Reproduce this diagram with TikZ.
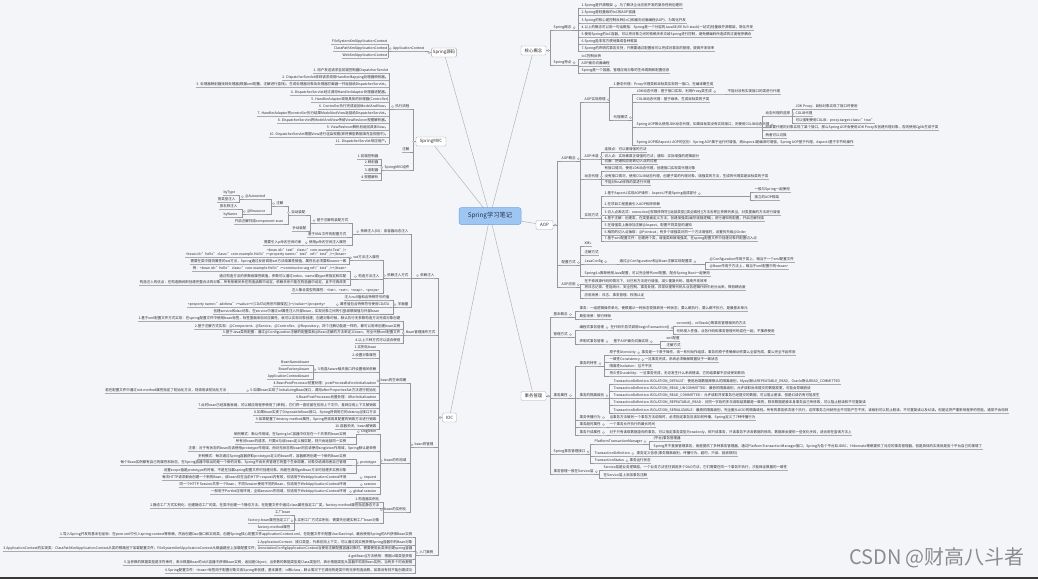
\documentclass[tikz,border=0pt]{standalone}
\usepackage{fontspec}
\setmainfont{Noto Sans CJK SC}
\definecolor{bgc}{RGB}{244,245,249}
\definecolor{txt}{RGB}{45,45,50}
\definecolor{ulc}{RGB}{170,170,176}
\definecolor{cnc}{RGB}{150,150,156}
\definecolor{brc}{RGB}{175,175,180}
\definecolor{boxd}{RGB}{165,165,170}
\definecolor{rootf}{RGB}{158,198,242}
\definecolor{rootd}{RGB}{118,163,222}
\definecolor{roott}{RGB}{40,50,75}
\definecolor{wmc}{RGB}{140,140,140}
\definecolor{barc}{RGB}{55,55,58}
\pgfdeclarelayer{bgl}\pgfdeclarelayer{fgl}\pgfsetlayers{bgl,main,fgl}
\newcommand\lfs{\fontsize{3.5pt}{4.2pt}\selectfont}
\tikzset{
  leafnu/.style={font=\lfs,text=txt,inner xsep=0.5pt,inner ysep=0.45pt,text height=2.75pt,text depth=0.75pt},
  leaf/.style={leafnu,append after command={(\tikzlastnode.south west) edge[uline] (\tikzlastnode.south east)}},
  uline/.style={draw=ulc,line width=0.45pt},
  conn/.style={draw=cnc,line width=0.4pt},
  knob/.style={draw=cnc,fill=bgc,line width=0.3pt},
  box/.style={draw=boxd,fill=white,rounded corners=1.2pt,font=\fontsize{4.4pt}{5pt}\selectfont,text=txt,inner xsep=1.5pt,inner ysep=0pt,minimum height=9pt,line width=0.4pt},
  root/.style={draw=rootd,fill=rootf,rounded corners=2.5pt,minimum width=62pt,minimum height=17pt,font=\fontsize{6.3pt}{7pt}\selectfont,text=roott,line width=0.5pt},
  branch/.style={draw=brc,line width=0.45pt},
  wm/.style={font=\fontsize{20pt}{22pt}\selectfont,text=wmc}
}
\newcommand\LN[4]{\node[leaf,anchor=south east] (#1) at (#2,#3) {#4};}
\newcommand\RN[4]{\node[leaf,anchor=south west] (#1) at (#2,#3) {#4};}
\newcommand\LC[3]{\coordinate (spt) at (#2,0);\foreach \nn in {#3}{\draw[conn] (#1) -- (#1 -| spt) |- (\nn.south east);}\begin{pgfonlayer}{fgl}\draw[knob] (#1) ++(-2.1,-2.3) circle[radius=1.05pt];\end{pgfonlayer}}
\newcommand\LCB[3]{\coordinate (spt) at (#2,0);\foreach \nn in {#3}{\draw[conn] (#1) -- (#1 -| spt) |- (\nn.south east);}\begin{pgfonlayer}{fgl}\draw[knob] (#1) ++(-2.2,0) circle[radius=1.05pt];\end{pgfonlayer}}
\newcommand\RC[3]{\coordinate (spt) at (#2,0);\foreach \nn in {#3}{\draw[conn] (#1) -- (#1 -| spt) |- (\nn.south west);}\begin{pgfonlayer}{fgl}\draw[knob] (#1) ++(2.1,-2.3) circle[radius=1.05pt];\end{pgfonlayer}}
\newcommand\RCB[3]{\coordinate (spt) at (#2,0);\foreach \nn in {#3}{\draw[conn] (#1) -- (#1 -| spt) |- (\nn.south west);}\begin{pgfonlayer}{fgl}\draw[knob] (#1) ++(2.2,0) circle[radius=1.05pt];\end{pgfonlayer}}
\begin{document}
\begin{tikzpicture}[x=1pt,y=-1pt]
\begin{pgfonlayer}{bgl}
\fill[bgc] (0,0) rectangle (1038,579);
\end{pgfonlayer}
\useasboundingbox (0,0) rectangle (1038,579);
\fill[barc] (0,577) rectangle (1038,579);

% ---------- root and main branches
\node[root] (root) at (490,216) {Spring学习笔记};
\node[box,minimum width=24pt] (src) at (444,52.5) {Spring源码};
\node[box,minimum width=30pt] (mvc) at (431,141.5) {SpringMVC};
\node[box,minimum width=14pt] (ioc) at (449.5,417.5) {IOC};
\node[box,minimum width=25pt] (core) at (533.5,50.5) {核心概念};
\node[box,minimum width=17pt] (aop) at (544.5,225) {AOP};
\node[box,minimum width=25pt] (tx) at (533.5,396) {事务管理};
\begin{pgfonlayer}{bgl}
\foreach \b in {src,mvc,ioc,core,aop,tx} \draw[branch] (root.center) -- (\b);
\end{pgfonlayer}

% ---------- Spring源码
\LN{s1}{425}{51}{ApplicationContext}
\LCB{src.west}{428.5}{s1}
\LN{s11}{388}{44}{FileSystemXmlApplicationContext}
\LN{s12}{388}{51}{ClassPathXmlApplicationContext}
\LN{s13}{388}{58}{WebXmlApplicationContext}
\LC{s1.south west}{388}{s11,s12,s13}

% ---------- SpringMVC
\LN{m1}{410}{109}{执行流程}
\LN{m2}{410}{152}{注解}
\LN{m3}{410}{170}{SpringMVC组件}
\LCB{mvc.west}{413}{m1,m2,m3}
\LN{m11}{389}{73}{1. 用户发送请求至前端控制器DispatcherServlet}
\LN{m12}{389}{80}{2. DispatcherServlet收到请求调用HandlerMapping处理器映射器。}
\LN{m13}{389}{87}{3. 处理器映射器找到处理器(根据xml配置、注解进行查找)，生成处理器对象及处理器拦截器一并返回给DispatcherServlet。}
\LN{m14}{389}{95}{4. DispatcherServlet经过调用HandlerAdapter处理器适配器。}
\LN{m15}{389}{102}{5. HandlerAdapter调用具体的处理器(Controller)}
\LN{m16}{389}{109}{6. Controller执行完成返回ModelAndView。}
\LN{m17}{389}{116}{7. HandlerAdapter将controller执行结果ModelAndView返回给DispatcherServlet。}
\LN{m18}{389}{123}{8. DispatcherServlet将ModelAndView传给ViewReslover视图解析器。}
\LN{m19}{389}{130}{9. ViewReslover解析后返回具体View。}
\LN{m110}{389}{137}{10. DispatcherServlet根据View进行渲染视图(即将模型数据填充至视图中)。}
\LN{m111}{389}{144}{11. DispatcherServlet响应用户。}
\LC{m1.south west}{389}{m11,m12,m13,m14,m15,m16,m17,m18,m19,m110,m111}
\LN{m31}{379}{159}{1.前端控制器}
\LN{m32}{379}{165}{2.映射器}
\LN{m33}{379}{173}{3.适配器}
\LN{m34}{379}{180}{4.视图解析}
\LC{m3.south west}{381.5}{m31,m32,m33,m34}

% ---------- IOC
\LN{i1}{435}{278}{依赖注入}
\LN{i2}{436}{335}{Bean管理操作方式}
\LN{i3}{434}{447}{bean的管理}
\LN{i4}{434}{555}{入门案例}
\LCB{ioc.west}{438.5}{i1,i2,i3,i4}

% 依赖注入
\LN{c15}{409}{234}{依赖注入(DI)：由容器动态注入}
\LN{dfs}{409}{278}{依赖注入方式}
\LN{d5}{409}{307}{字面量}
\LC{i1.south west}{411}{c15,dfs,d5}
\LN{c11}{349}{223}{基于注解的装配方式}
\LN{c12}{347}{237}{基于XML文件的配置方式}
\LN{c13}{347}{245}{使用p命名空间注入属性}
\LC{c15.south west}{352}{c11,c12,c13}
\LN{c9}{306}{215}{自动装配}
\LN{c10}{307}{231}{手动装配}
\LC{c11.south west}{310}{c9,c10}
\LN{c7}{284}{206}{注解}
\LN{c8}{284}{224}{开启注解扫描component-scan}
\LC{c9.south west}{288}{c7,c8}
\LN{c5}{266}{199}{@Autowired}
\LN{c6}{266}{214}{@Resource}
\LC{c7.south west}{271}{c5,c6}
\LN{c1}{236}{195}{byType}
\LN{c2}{236}{202}{按类型注入}
\LC{c5.south west}{239}{c1,c2}
\LN{c3}{238}{209}{按名称注入}
\LN{c4}{238}{217}{byName}
\LC{c6.south west}{242}{c3,c4}
\LN{c14}{302}{245}{需要引入p命名空间约束}
\LC{c13.south west}{305}{c14}
\LN{setinj}{380}{260}{set方法注入属性}
\LN{consinj}{380}{279}{构造方法注入}
\LN{d1}{380}{293}{注入集合类型的属性：<list>、<set>、<map>、<props>}
\LC{dfs.south west}{383}{setinj,consinj,d1}
\node[leafnu,anchor=south east] (c16a) at (347,252.4) {<bean id="test" class="com.example.Test"/>};
\LN{c16}{347}{257}{<bean id="hello" class="com.example.Hello"><property name="test" ref="test"/></bean>}
\LN{c18}{347}{264}{需要在类中提供属性的set方法，Spring通过反射调用set方法给属性赋值，属性名必须要和name一致}
\LC{setinj.south west}{349.5}{c16,c18}
\LN{c19}{347}{271}{例：<bean id="hello" class="com.example.Hello"><constructor-arg ref="test"/></bean>}
\LN{c20}{347}{279}{通过构造方法的参数给属性赋值，参数可以通过index、name或type来指定和匹配}
\LN{c21}{347}{285}{构造注入的优点：在构造期间即创建完整合法的对象，所有依赖关系在构造函数中设定，依赖关系只能在构造器中设定，且不可再改变}
\LC{consinj.south west}{350}{c19,c20,c21}
\LN{d2}{390}{300}{注入null值和含特殊符号的值}
\LN{d4}{390}{307}{属性值包含特殊符号使用CDATA}
\LN{d7}{380}{314}{级联赋值与外部bean}
\LC{d5.south west}{393}{d2,d4,d7}
\LN{d3}{326}{307}{<property name="address"><value><![CDATA[南京市鼓楼区]]></value></property>}
\LC{d4.south west}{329}{d3}
\LN{d6}{347}{314}{创建service和dao对象，在service中通过ref属性注入外部bean，实现对象之间的引用}
\LC{d7.south west}{350}{d6}
\LN{d8}{401}{321}{1.基于xml配置文件方式实现：在spring配置文件中使用bean标签，标签里面添加对应属性，就可以实现对象创建；创建对象时候，默认执行无参数构造方法完成对象创建}
\LN{d9}{401}{329}{2.基于注解方式实现：@Component、@Service、@Controller、@Repository，四个注解功能是一样的，都可以用来创建bean实例}
\LN{d10}{401}{335}{3.基于Java类的配置：通过@Configuration注解的配置类和@Bean注解的方法来定义bean，完全代替xml配置文件}
\LN{d11}{401}{343}{4.以上三种方式可以混合使用}
\LC{i2.south west}{403.5}{d8,d9,d10,d11}

% bean的管理
\LN{e0}{407}{383}{bean的生命周期}
\LN{f0}{407}{463}{bean的作用域}
\LN{g0}{407}{512}{bean的实例化}
\LC{i3.south west}{410}{e0,f0,g0}
\LN{e1}{377}{350}{1.实例化bean}
\LN{e2}{377}{358}{2.设置对象属性}
\LN{e3}{377}{372}{3.检查Aware相关接口并设置相关依赖}
\LN{e4}{377}{386}{4.BeanPostProcessor前置处理：postProcessBeforeInitialization}
\LN{e5}{377}{393}{5.如果bean实现了InitializingBean接口，调用afterPropertiesSet方法进行初始化}
\LN{e6}{377}{400}{6.BeanPostProcessor后置处理：AfterInitialization}
\LN{e7}{377}{408}{7.此时bean已经准备就绪，可以被应用程序使用了(单例)，它们将一直驻留在应用上下文中，直到应用上下文被销毁}
\LN{e8}{377}{415}{8.如果bean实现了DisposableBean接口，Spring将调用它的destroy()接口方法}
\LN{e9}{377}{422}{9.如果配置了destroy-method属性，Spring将调用其配置的销毁方法进行销毁}
\LN{e10}{377}{429}{10.容器关闭，bean被销毁}
\LC{e0.south west}{379.5}{e1,e2,e3,e4,e5,e6,e7,e8,e9,e10}
\LN{aw1}{310}{365}{BeanNameAware}
\LN{aw2}{310}{372}{BeanFactoryAware}
\LN{aw3}{310}{379}{ApplicationContextAware}
\LC{e3.south west}{313}{aw1,aw2,aw3}
\LN{e51}{227}{393}{若在配置文件中通过init-method属性指定了初始化方法，则调用该初始化方法}
\LC{e5.south west}{230}{e51}
\LN{fs}{377}{434}{singleton}
\LN{f4}{377}{451}{注意：对于有状态的bean应该使用prototype作用域，而对无状态的bean则应该使用singleton作用域，Spring默认是单例}
\LN{fp}{377}{465}{prototype}
\LN{fr}{377}{480}{request}
\LN{fse}{377}{487}{session}
\LN{fg}{377}{494}{global session}
\LC{f0.south west}{380.5}{fs,f4,fp,fr,fse,fg}
\LN{fs1}{347}{437}{单例模式：默认作用域，在Spring IoC容器中仅存在一个共享的bean实例}
\LN{fs2}{347}{444}{所有对bean的请求，只要id与该bean定义相匹配，则只会返回同一实例}
\LC{fs.south west}{356}{fs1,fs2}
\LN{fp1}{347}{459}{多例模式：每次通过Spring容器获取prototype定义的bean时，容器都将创建一个新的Bean实例}
\LN{fp2}{347}{465}{每个Bean实例都有自己的属性和状态，在Spring容器中取出的是一个新的对象，Spring不会负责管理它的整个生命周期，对象交给调用者自己管理}
\LN{fp3}{347}{473}{设置scope值是prototype的时候，不是在加载spring配置文件时创建对象，而是在调用getBean方法时创建多实例对象}
\LC{fp.south west}{356}{fp1,fp2,fp3}
\LN{fr1}{347}{480}{每次HTTP请求都会创建一个新的Bean，该bean仅在当前HTTP request内有效，仅适用于WebApplicationContext环境}
\LC{fr.south west}{356}{fr1}
\LN{fse1}{347}{487}{同一个HTTP Session共享一个Bean，不同Session使用不同的Bean，仅适用于WebApplicationContext环境}
\LC{fse.south west}{356}{fse1}
\LN{fg1}{347}{494}{一般用于Portlet应用环境，全局session作用域，仅适用于WebApplicationContext环境}
\LC{fg.south west}{351}{fg1}
\LN{g1}{380}{502}{1.构造器实例化}
\LN{g2}{380}{508}{2.静态工厂方式实例化：创建静态工厂的类，在类中创建一个静态方法，在配置文件中通过class属性指定工厂类，factory-method属性指定静态方法}
\LN{g3}{380}{523}{3.实例工厂方式实例化：需要先创建实例工厂bean对象}
\LC{g0.south west}{383}{g1,g2,g3}
\LN{g31}{291}{515}{工厂bean}
\LN{g32}{291}{523}{factory-bean属性指定工厂}
\LN{g33}{291}{530}{factory-method属性}
\LC{g3.south west}{294}{g31,g32,g33}

% 入门案例
\LN{h1}{413}{537}{1.导入Spring开发的基本包坐标：在pom.xml中引入spring-context等依赖，然后创建Dao接口和实现类，创建Spring核心配置文件applicationContext.xml，在配置文件中配置UserDaoImpl，最后使用Spring的API获得Bean实例}
\LN{h2}{413}{545}{2.ApplicationContext：接口类型，代表应用上下文，可以通过其实例获得Spring容器中的Bean对象}
\LN{h3}{413}{551}{3.ApplicationContext的实现类：ClassPathXmlApplicationContext从类的根路径下加载配置文件；FileSystemXmlApplicationContext从磁盘路径上加载配置文件；AnnotationConfigApplicationContext当使用注解配置容器对象时，需要使用此类来创建spring容器}
\LN{h4}{413}{559}{4.getBean()方法使用：根据id或类型获取}
\LN{h5}{413}{565}{5.当参数的数据类型是字符串时，表示根据Bean的id从容器中获得Bean实例，返回是Object；当参数的数据类型是Class类型时，表示根据类型从容器中匹配Bean实例，当有多个时会报错}
\LN{h6}{413}{573}{6.Spring配置文件：<bean>标签用于配置对象交由Spring来创建，基本属性：id和class，默认情况下它调用的是类中的无参构造函数，如果没有则不能创建成功}
\LC{i4.south west}{415.5}{h1,h2,h3,h4,h5,h6}

% ---------- 核心概念
\RN{k1}{553}{30}{Spring概念}
\RN{k2}{553}{65}{Spring特点}
\RCB{core.east}{550}{k1,k2}
\RN{k11}{581}{8}{1.Spring是开源框架}
\RN{k12}{581}{15}{2.Spring是轻量级的IoC和AOP容器}
\RN{k13}{581}{23}{3.Spring的核心是控制反转(IoC)和面向切面编程(AOP)，为简化开发}
\RN{k14}{581}{30}{4.以上的概念可以用一句话概括：Spring是一个分层的JavaSE/EE full-stack(一站式)轻量级开源框架，简化开发}
\RN{k15}{581}{37}{5.使用Spring的IoC容器，可以将对象之间的依赖关系交给Spring进行控制，避免硬编码所造成的过度程序耦合}
\RN{k16}{581}{44}{6.Spring能非常方便地集成各种框架}
\RN{k17}{581}{51}{7.Spring的声明式事务支持，只需要通过配置就可以完成对事务的管理，提高开发效率}
\RC{k1.south east}{578}{k11,k12,k13,k14,k15,k16,k17}
\RN{k111}{619}{8}{为了解决企业应用开发的复杂性而创建的}
\RC{k11.south east}{616}{k111}
\RN{k21}{581}{59}{IoC控制反转}
\RN{k22}{581}{66}{AOP面向切面编程}
\RN{k23}{581}{73}{Spring是一个容器，管理应用对象的生命周期和配置信息}
\RC{k2.south east}{578}{k21,k22,k23}

% ---------- AOP
\RN{a1}{561}{161}{AOP概念}
\RN{a2}{561}{265}{配置方式}
\RN{a3}{561}{287}{AOP应用}
\RCB{aop.east}{557}{a1,a2,a3}
\RN{a11}{584}{102}{AOP实现原理}
\RN{a12}{584}{159}{AOP术语}
\RN{a13}{584}{179}{动态代理}
\RN{a14}{584}{218}{实现方式}
\RC{a1.south east}{580}{a11,a12,a13,a14}
\RN{a111}{613}{87}{1.静态代理：Proxy代理类和目标类实现同一接口，在编译期生成}
\RN{a112}{613}{120}{代理模式}
\RC{a11.south east}{609}{a111,a112}
\RN{a1121}{636}{94}{JDK动态代理：基于接口实现，利用Proxy类生成}
\RN{a1122}{636}{102}{CGLIB动态代理：基于继承，生成目标类的子类}
\RN{a1123}{636}{127}{Spring AOP默认使用JDK动态代理，如果目标类没有实现接口，则使用CGLIB动态代理}
\RN{a1124}{636}{145}{Spring AOP和AspectJ AOP的区别：Spring AOP属于运行时增强，而AspectJ是编译时增强，Spring AOP基于代理，AspectJ基于字节码操作}
\RC{a112.south east}{632}{a1121,a1122,a1123,a1124}
\RN{a11211}{727}{94}{不能对没有实现接口的类进行代理}
\RC{a1121.south east}{724}{a11211}
\RN{p1}{765}{116}{动态代理的选择}
\RN{p2}{765}{130}{如果要代理的对象实现了某个接口，那么Spring AOP会使用JDK Proxy去创建代理对象，否则使用Cglib生成子类}
\RN{p3}{765}{138}{两者可以切换}
\RC{a1123.south east}{762}{p1,p2,p3}
\RN{p11}{795}{109}{JDK Proxy：目标对象实现了接口时使用}
\RN{p12}{795}{116}{CGLIB代理}
\RN{p13}{795}{123}{可以强制使用CGLIB：proxy-target-class="true"}
\RC{p1.south east}{792}{p11,p12,p13}
\RN{a121}{604}{152}{连接点：可以被增强的方法}
\RN{a122}{604}{159}{切入点：实际被真正增强的方法；通知：实际增强的逻辑部分}
\RN{a123}{604}{164}{切面：把通知应用到切入点的过程}
\RC{a12.south east}{601}{a121,a122,a123}
\RN{a131}{604}{171}{有接口情况，使用JDK动态代理，创建接口实现类代理对象}
\RN{a132}{604}{179}{没有接口情况，使用CGLIB动态代理，创建子类的代理对象，增强类的方法，生成的代理类是目标类的子类}
\RN{a133}{604}{185}{不能对final修饰的类进行代理}
\RC{a13.south east}{601.5}{a131,a132,a133}
\RN{q1}{604}{196}{1.基于AspectJ实现AOP操作：AspectJ不是Spring组成部分}
\RN{q2}{604}{207}{2.在项目工程里面引入AOP相关依赖}
\RN{q3}{604}{215}{3.切入点表达式：execution([权限修饰符][返回类型][类全路径][方法名称]([参数列表]))，对类里面的方法进行增强}
\RN{q4}{604}{221}{4.基于注解：创建类，在类里面定义方法；创建增强类(编写增强逻辑)；进行通知的配置，开启注解扫描}
\RN{q5}{604}{228}{5.在增强类上面添加注解@Aspect，配置不同类型的通知}
\RN{q6}{604}{235}{6.相同的切入点抽取：@Pointcut；有多个增强类对同一个方法增强时，设置优先级@Order}
\RN{q7}{604}{241}{7.基于xml配置文件：创建两个类，增强类和被增强类，在spring配置文件中创建对象并配置切入点}
\RC{a14.south east}{601.5}{q1,q2,q3,q4,q5,q6,q7}
\RN{q11}{754}{192}{一般与Spring一起使用}
\RN{q12}{754}{200}{独立的AOP框架}
\RC{q1.south east}{750}{q11,q12}
\RN{b1}{584}{246}{XML}
\RN{b2}{584}{255}{注解方式}
\RN{b3}{584}{264}{JavaConfig}
\RN{b4}{584}{276}{Spring4.x推荐使用Java配置，可以完全替代xml配置，配合Spring Boot一起使用}
\RC{a2.south east}{580}{b1,b2,b3,b4}
\RN{b31}{619}{264}{通过@Configuration和@Bean注解实现配置类}
\RC{b3.south east}{615}{b31}
\RN{b311}{709}{262}{@Configuration作用于类上，相当于一个xml配置文件}
\RN{b312}{709}{269}{@Bean作用于方法上，相当于xml配置中的<bean>}
\RC{b31.south east}{705}{b311,b312}
\RN{r1}{584}{284}{在不修改源代码的情况下，对已有方法进行增强，减少重复代码，提高开发效率}
\RN{r2}{584}{290}{将日志记录、性能统计、安全控制、事务处理、异常处理等代码从业务逻辑代码中划分出来，降低耦合度}
\RN{r3}{584}{298}{应用场景：日志、事务管理、权限认证}
\RC{a3.south east}{580}{r1,r2,r3}

% ---------- 事务管理
\RN{t1}{553}{317}{基本概念}
\RN{t2}{553}{337}{管理方式}
\RN{t3}{553}{398}{事务属性}
\RN{t4}{553}{454}{Spring事务管理接口}
\RN{t5}{553}{474}{事务管理一般在Service层}
\RCB{tx.east}{550}{t1,t2,t3,t4,t5}
\RN{t11}{579}{311}{事务：一组逻辑操作单元，使数据从一种状态变换到另一种状态；要么都执行，要么都不执行，是最基本单元}
\RN{t12}{579}{319}{典型场景：银行转账}
\RC{t1.south east}{575.5}{t11,t12}
\RN{t21}{579}{330}{编程式事务管理}
\RN{t22}{579}{344}{声明式事务管理}
\RC{t2.south east}{575.5}{t21,t22}
\RN{t211}{610}{330}{在代码中显式调用beginTransaction()}
\RC{t21.south east}{607.5}{t211}
\RN{t2111}{676}{326}{commit()、rollback()等事务管理相关的方法}
\RN{t2112}{676}{334}{代码侵入性强，业务代码和事务管理代码混在一起，不推荐使用}
\RC{t211.south east}{673}{t2111,t2112}
\RN{t221}{613}{344}{基于AOP面向切面实现}
\RC{t22.south east}{608}{t221}
\RN{t2211}{666}{341}{xml配置}
\RN{t2212}{666}{348}{注解方式}
\RC{t221.south east}{660}{t2211,t2212}
\RN{t31}{579}{366}{事务的特性}
\RN{t32}{579}{398}{事务的隔离级别}
\RN{t33}{579}{420}{事务传播行为}
\RN{t34}{579}{427}{事务超时属性}
\RN{t35}{579}{435}{事务只读属性}
\RC{t3.south east}{575.5}{t31,t32,t33,t34,t35}
\RN{t311}{609}{355}{原子性Atomicity}
\RN{t312}{609}{362}{一致性Consistency}
\RN{t313}{609}{369}{隔离性Isolation：互不干扰}
\RN{t314}{609}{376}{持久性Durability：一旦事务完成，无论发生什么系统错误，它的结果都不应该受到影响}
\RC{t31.south east}{604}{t311,t312,t313,t314}
\RN{t3111}{641}{355}{事务是一个原子操作，由一系列动作组成，事务的原子性确保动作要么全部完成，要么完全不起作用}
\RC{t311.south east}{638}{t3111}
\RN{t3121}{644}{362}{一旦事务完成，系统必须确保数据处于一致状态}
\RC{t312.south east}{641.5}{t3121}
\RN{t321}{613}{384}{TransactionDefinition.ISOLATION\_DEFAULT：使用后端数据库默认的隔离级别，Mysql默认REPEATABLE\_READ，Oracle默认READ\_COMMITTED}
\RN{t322}{613}{391}{TransactionDefinition.ISOLATION\_READ\_UNCOMMITTED：最低的隔离级别，允许读取尚未提交的数据变更，可能会导致脏读}
\RN{t323}{613}{398}{TransactionDefinition.ISOLATION\_READ\_COMMITTED：允许读取并发事务已经提交的数据，可以阻止脏读，但是幻读仍有可能发生}
\RN{t324}{613}{405}{TransactionDefinition.ISOLATION\_REPEATABLE\_READ：对同一字段的多次读取结果都是一致的，除非数据是被本身事务自己所修改，可以阻止脏读和不可重复读}
\RN{t325}{613}{413}{TransactionDefinition.ISOLATION\_SERIALIZABLE：最高的隔离级别，完全服从ACID的隔离级别。所有的事务依次逐个执行，这样事务之间就完全不可能产生干扰，该级别可以防止脏读、不可重复读以及幻读。但是这将严重影响程序的性能，通常不会用到}
\RC{t32.south east}{609}{t321,t322,t323,t324,t325}
\RN{t331}{609}{420}{当事务方法被另一个事务方法调用时，必须指定事务应该如何传播，Spring定义了7种传播行为}
\RC{t33.south east}{605}{t331}
\RN{t341}{609}{427}{一个事务允许执行的最长时间}
\RC{t34.south east}{605}{t341}
\RN{t351}{609}{435}{对于只有读取数据查询的事务，可以指定事务类型为readonly，即只读事务，只读事务不涉及数据的修改，数据库会提供一些优化手段，适合用在查询方法上}
\RC{t35.south east}{605}{t351}
\RN{u1}{594}{444}{PlatformTransactionManager}
\RN{u2}{594}{456}{TransactionDefinition}
\RN{u3}{594}{463}{TransactionStatus}
\RC{t4.south east}{590}{u1,u2,u3}
\RN{u11}{653}{441}{(平台)事务管理器}
\RN{u12}{653}{449}{Spring并不直接管理事务，而是提供了多种事务管理器，通过PlatformTransactionManager接口，Spring为各个平台如JDBC、Hibernate等都提供了对应的事务管理器，但是具体的实现就是各个平台自己的事情了}
\RC{u1.south east}{649}{u11,u12}
\RN{u21}{636}{456}{事务定义信息(事务隔离级别、传播行为、超时、只读、回滚规则)}
\RC{u2.south east}{634}{u21}
\RN{u31}{629}{463}{事务运行状态}
\RC{u3.south east}{626.5}{u31}
\RN{v1}{603}{470}{Service层是业务逻辑层，一个业务方法往往调用多个DAO方法，它们需要在同一个事务中执行，才能保证数据的一致性}
\RN{v2}{603}{478}{在Service层上添加事务注解}
\RC{t5.south east}{599}{v1,v2}

% ---------- watermark
\node[wm] (wmk) at (937,558) {CSDN @财高八斗者};
\end{tikzpicture}
\end{document}
